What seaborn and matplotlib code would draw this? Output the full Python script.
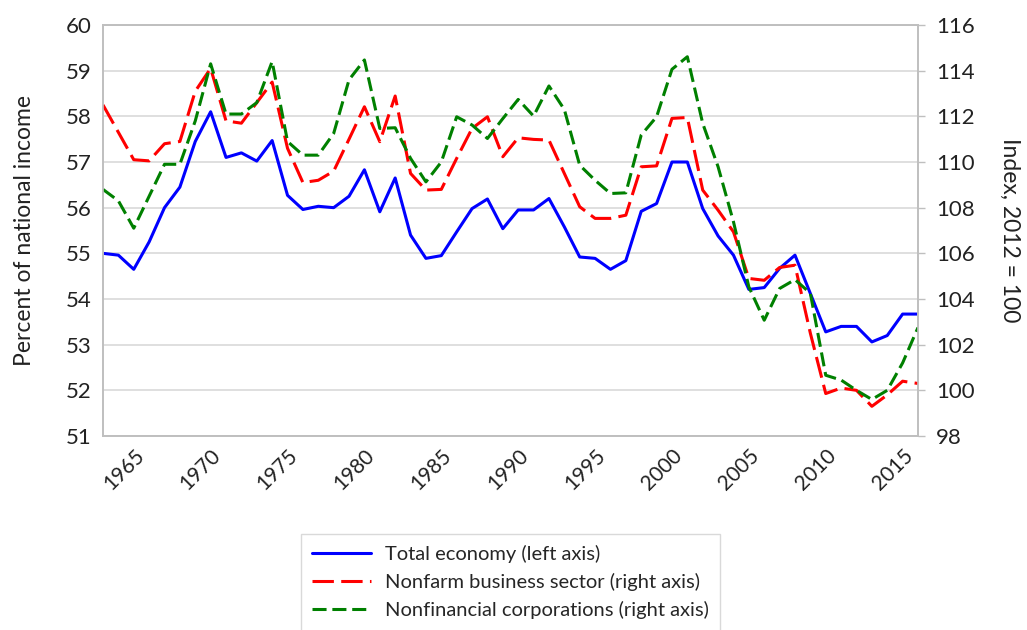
import numpy as np
import pandas as pd
import matplotlib
matplotlib.use("Agg")
import matplotlib.pyplot as plt
import seaborn as sns

# years shown on the chart
years = list(range(1963, 2017))

# Total economy, percent of national income (left axis)
total_economy = [
    55.0, 54.96, 54.65, 55.25, 56.0, 56.45, 57.45, 58.1, 57.1, 57.2,
    57.02, 57.47, 56.27, 55.96, 56.03, 56.0, 56.25, 56.83, 55.91, 56.65,
    55.4, 54.89, 54.95, 55.47, 55.98, 56.19, 55.54, 55.95, 55.95, 56.2,
    55.58, 54.92, 54.89, 54.65, 54.84, 55.92, 56.09, 57.0, 57.0, 55.98,
    55.38, 54.96, 54.21, 54.25, 54.67, 54.96, 54.12, 53.28, 53.4, 53.4,
    53.06, 53.2, 53.67, 53.67,
]

# Nonfarm business sector, index 2012 = 100 (right axis)
nonfarm = [
    112.5, 111.3, 110.1, 110.05, 110.8, 110.9, 113.1, 114.1, 111.8, 111.7,
    112.6, 113.5, 110.6, 109.1, 109.2, 109.6, 111.0, 112.42, 110.89, 112.89,
    109.5, 108.77, 108.8, 110.16, 111.47, 111.98, 110.23, 111.06, 110.99, 110.96,
    109.5, 108.04, 107.53, 107.53, 107.67, 109.79, 109.83, 111.91, 111.95, 108.77,
    107.89, 106.94, 104.9, 104.82, 105.38, 105.48, 102.5, 99.86, 100.1, 100.0,
    99.3, 99.8, 100.4, 100.3,
]

# Nonfinancial corporations, index 2012 = 100 (right axis)
nonfinancial = [
    108.8, 108.3, 107.1, 108.5, 109.9, 109.9, 111.8, 114.3, 112.1, 112.1,
    112.6, 114.4, 110.9, 110.3, 110.3, 111.25, 113.6, 114.47, 111.47, 111.5,
    110.16, 109.13, 110.0, 111.98, 111.62, 111.03, 111.9, 112.74, 112.01, 113.33,
    112.3, 109.86, 109.2, 108.62, 108.65, 111.18, 111.98, 114.06, 114.61, 111.69,
    109.79, 107.38, 104.53, 103.07, 104.46, 104.85, 104.25, 100.66, 100.45, 100.0,
    99.6, 100.0, 101.2, 102.75,
]

year_ticks = list(range(1965, 2020, 5))
grid_years = list(range(1970, 2020, 10))
left_ticks = list(range(51, 61))
right_ticks = list(range(98, 117, 2))

df = pd.DataFrame({
    "year": years,
    "total": total_economy,
    "nonfarm": nonfarm,
    "nonfin": nonfinancial,
})

sns.set_theme(style="white")
plt.rcParams["font.family"] = ["Lato", "DejaVu Sans"]

fig = plt.figure(figsize=(10.27, 6.3), dpi=100)
ax = fig.add_axes([103 / 1027, 1 - 436 / 630, (918 - 103) / 1027, (436 - 25) / 630])
ax2 = ax.twinx()

# left axis series
sns.lineplot(data=df, x="year", y="total", ax=ax, color="#0000ff",
             linewidth=2.2, label="Total economy (left axis)", legend=False)

# right axis series
sns.lineplot(data=df, x="year", y="nonfarm", ax=ax2, color="#ff0000",
             linewidth=2.2, label="Nonfarm business sector (right axis)",
             legend=False)
sns.lineplot(data=df, x="year", y="nonfin", ax=ax2, color="#008000",
             linewidth=2.2, label="Nonfinancial corporations (right axis)",
             legend=False)
ax2.lines[0].set_dashes([7, 2.4])
ax2.lines[1].set_dashes([4.6, 1.9])

ax.set_xlim(1963, 2016)
ax.set_ylim(51, 60)
ax2.set_ylim(98, 116)

ax.set_yticks(left_ticks)
ax2.set_yticks(right_ticks)
ax.set_xticks(year_ticks)
ax.set_xticks(grid_years, minor=True)
ax.set_xticklabels([str(y) for y in year_ticks], rotation=45, ha="right",
                   rotation_mode="anchor", fontsize=15, color="#222222")

ax.grid(axis="y", color="#d9d9d9", linewidth=1.2)
ax.grid(axis="x", which="minor", color="#d9d9d9", linewidth=1.2)
ax.set_axisbelow(True)

ax.tick_params(axis="y", length=0, labelsize=16, labelcolor="#222222", pad=8)
ax.tick_params(axis="x", which="both", length=0, pad=7)
ax2.tick_params(axis="y", length=5, width=1, color="#bfbfbf", labelsize=16,
                labelcolor="#222222", pad=8)

for a in (ax, ax2):
    for s in a.spines.values():
        s.set_color("#bfbfbf")
        s.set_linewidth(1.2)

ax.set_xlabel("")
ax.set_ylabel("Percent of national income", fontsize=16.5, color="#222222", labelpad=22)
ax2.set_ylabel("Index, 2012 = 100", fontsize=16.5, color="#222222", rotation=-90,
               labelpad=33)

handles = ax.get_lines()[:1] + ax2.get_lines()[:2]
labels = [h.get_label() for h in handles]
leg = fig.legend(handles, labels, loc="upper center", bbox_to_anchor=(0.497, 1 - 524 / 630),
                 frameon=True, fancybox=False, fontsize=14.5, handlelength=2.9,
                 handletextpad=0.7, labelspacing=0.5, borderpad=0.55)
leg.get_frame().set_edgecolor("#d0d0d0")
leg.get_frame().set_linewidth(1.0)

fig.savefig("out.png", dpi=100)
